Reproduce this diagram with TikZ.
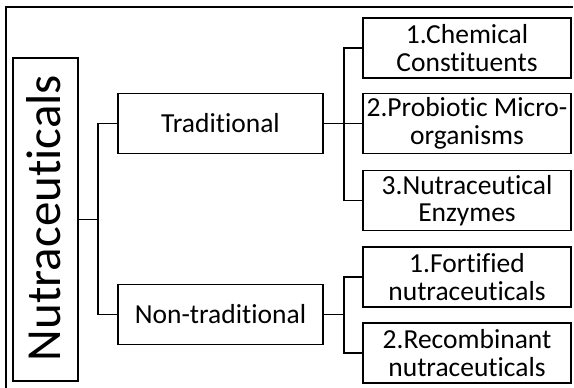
\documentclass[tikz,border=0pt]{standalone}
\usepackage{fontspec}
\setmainfont[Ligatures=NoCommon]{Carlito}
\begin{document}
\begin{tikzpicture}[x=1pt,y=-1pt,
  box/.style={draw, line width=1.6pt, minimum height=60pt, inner sep=0pt, align=center,
    font=\fontsize{27.5}{27.5}\selectfont},
  midbox/.style={box, minimum width=205pt},
  leafbox/.style={box, minimum width=208pt},
  link/.style={line width=1.3pt}]
  \useasboundingbox (0,0) rectangle (574,388);
  % frame
  \draw[line width=1.3pt] (6,388) -- (6,7) -- (573,7);
  % root
  \node[draw, line width=1.6pt, minimum width=65pt, minimum height=323pt, inner sep=0pt] (root) at (45.5,219.5) {};
  \node[rotate=90, font=\fontsize{49}{50}\selectfont, inner sep=0pt] (rootlabel) at (43.5,218) {Nutraceuticals};
  % second level
  \node[midbox] (trad) at (220.5,123.5) {Traditional};
  \node[midbox] (nontrad) at (220.5,314.5) {Non-traditional};
  % leaves
  \node[leafbox] (chem) at (467,48) {1.Chemical\\Constituents};
  \node[leafbox] (prob) at (467,123.5) {2.Probiotic Micro-\\organisms};
  \node[leafbox] (enz) at (467,200.5) {3.Nutraceutical\\Enzymes};
  \node[leafbox] (fort) at (467,277) {1.Fortified\\nutraceuticals};
  \node[leafbox] (recomb) at (467,353) {2.Recombinant\\nutraceuticals};
  % junctions
  \coordinate (j1) at (98,219.5);
  \coordinate (j2) at (344,123.5);
  \coordinate (j3) at (344,314.5);
  % connectors
  \draw[link] (root.east) -- (j1);
  \draw[link] (trad.west) -| (j1) |- (nontrad.west);
  \draw[link] (trad.east) -- (j2) -- (prob.west);
  \draw[link] (chem.west) -| (j2) |- (enz.west);
  \draw[link] (nontrad.east) -- (j3);
  \draw[link] (fort.west) -| (j3) |- (recomb.west);
\end{tikzpicture}
\end{document}
